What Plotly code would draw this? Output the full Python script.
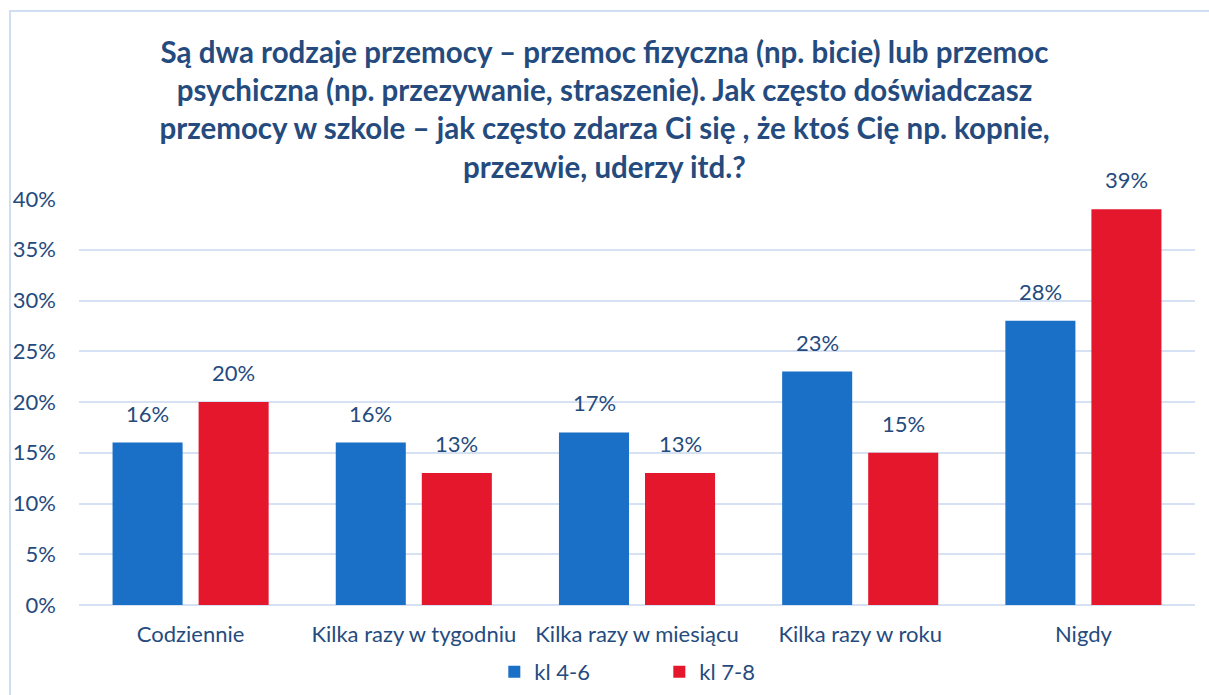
import plotly.graph_objects as go

categories = ["Codziennie", "Kilka razy w tygodniu", "Kilka razy w miesiącu", "Kilka razy w roku", "Nigdy"]
kl_4_6 = [0.16, 0.16, 0.17, 0.23, 0.28]
kl_7_8 = [0.20, 0.13, 0.13, 0.15, 0.39]
series_names = ["kl 4-6", "kl 7-8"]
title_text = ("Są dwa rodzaje przemocy – przemoc fizyczna (np. bicie) lub przemoc<br>"
              "psychiczna (np. przezywanie, straszenie). Jak często doświadczasz<br>"
              "przemocy w szkole – jak często zdarza Ci się , że ktoś Cię np. kopnie,<br>"
              "przezwie, uderzy itd.?")

TXT = "#254B7E"
FONT = "Lato"
colors = ["#1A6FC6", "#E5172D"]
bar_shift = [-43, 43]

fig = go.Figure()
annotations = []
for i, (name, vals) in enumerate([(series_names[0], kl_4_6), (series_names[1], kl_7_8)]):
    fig.add_trace(go.Bar(
        x=categories, y=vals, name=name,
        marker=dict(color=colors[i], line=dict(width=0)),
    ))
    for c, v in zip(categories, vals):
        annotations.append(dict(x=c, y=v, xref="x", yref="y", text=f"{v*100:.0f}%",
                                showarrow=False, xshift=bar_shift[i], yshift=14,
                                yanchor="bottom", xanchor="center",
                                font=dict(size=22, color=TXT, family=FONT)))

fig.update_layout(
    width=1209, height=695,
    paper_bgcolor="white", plot_bgcolor="white",
    margin=dict(l=79, r=14, t=199, b=90, autoexpand=False),
    barmode="group", bargap=0.229, bargroupgap=0.186,
    font=dict(family=FONT, color=TXT, size=22),
    title=dict(text=title_text, x=0.5, xanchor="center", yref="container", y=0.91, yanchor="top",
               font=dict(family=FONT, size=29.5, color=TXT, weight="bold")),
    legend=dict(orientation="h", x=0.52, xanchor="center", yref="container", y=0.033, yanchor="middle",
                font=dict(size=22, color=TXT, family=FONT), itemwidth=30,
                entrywidth=120, entrywidthmode="pixels", traceorder="normal"),
    xaxis=dict(showgrid=False, showline=False, ticks="", ticklabelstandoff=14,
               tickfont=dict(size=22, color=TXT)),
    yaxis=dict(range=[0, 0.4], dtick=0.05, tickformat=".0%", showgrid=True,
               gridcolor="#D6E2F3", gridwidth=1.5, zeroline=True, zerolinecolor="#D6E2F3",
               zerolinewidth=1.5, showline=False, ticks="", ticklabelstandoff=22,
               tickfont=dict(size=22, color=TXT)),
    annotations=annotations,
    shapes=[dict(type="rect", xref="paper", yref="paper",
                 x0=-0.0618, x1=1.03, y0=-0.4, y1=1.463,
                 line=dict(color="#D0DEF2", width=2), fillcolor="rgba(0,0,0,0)", layer="below")],
)

fig.write_html("out.html", config={"displayModeBar": False},
               post_script="document.body.style.margin='0px';")
